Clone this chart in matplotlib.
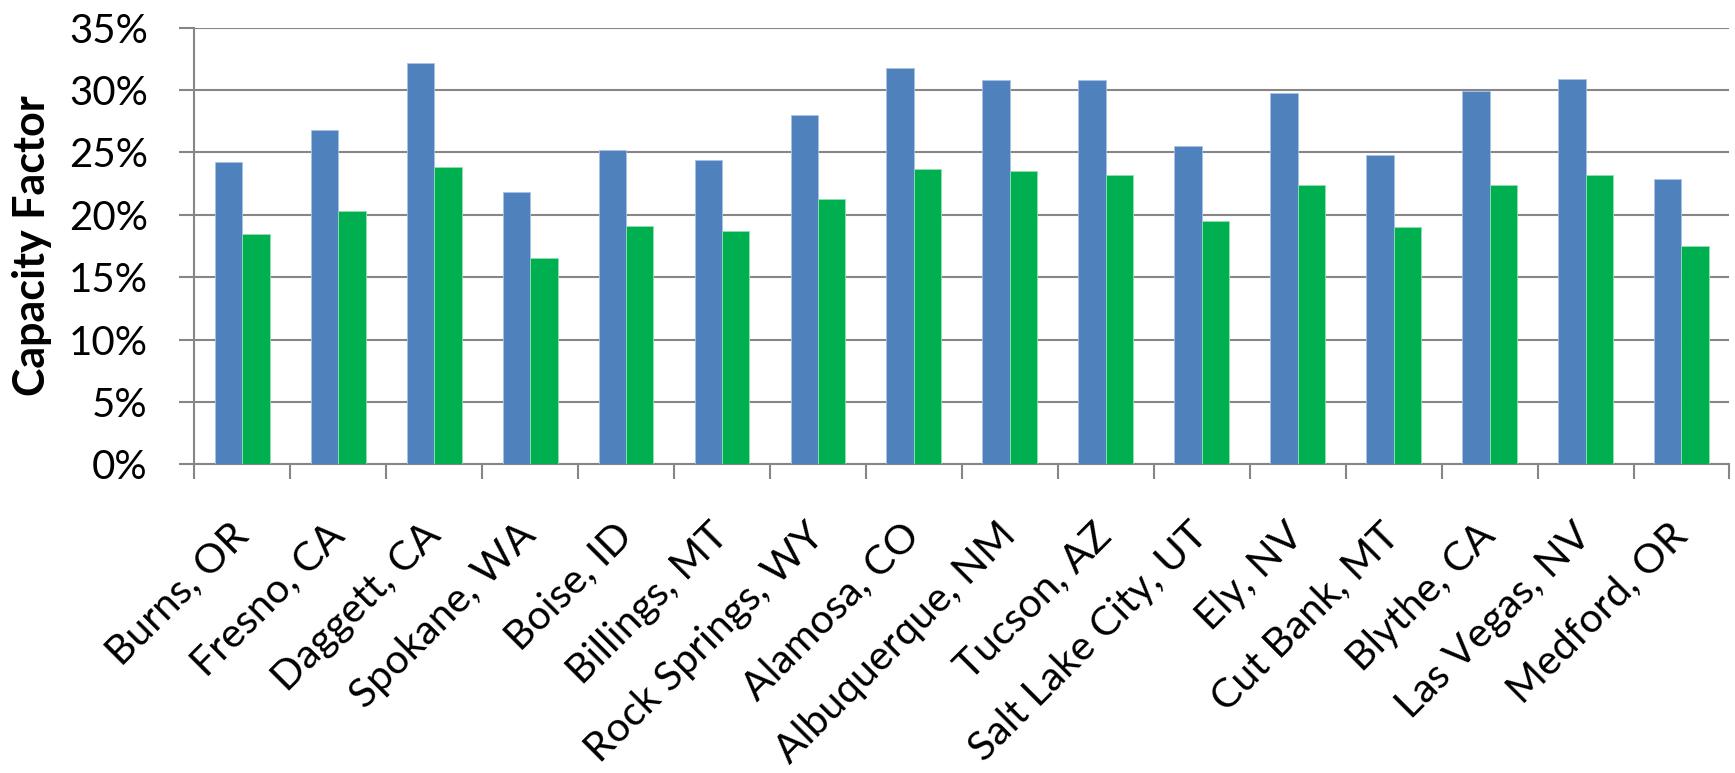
import numpy as np
import matplotlib
matplotlib.use("Agg")
import matplotlib.pyplot as plt
from matplotlib.ticker import PercentFormatter, FixedLocator

plt.rcParams['font.family'] = ['Lato', 'DejaVu Sans']

sites = ['Burns, OR', 'Fresno, CA', 'Daggett, CA', 'Spokane, WA', 'Boise, ID',
         'Billings, MT', 'Rock Springs, WY', 'Alamosa, CO', 'Albuquerque, NM',
         'Tucson, AZ', 'Salt Lake City, UT', 'Ely, NV', 'Cut Bank, MT',
         'Blythe, CA', 'Las Vegas, NV', 'Medford, OR']
cf_blue = [24.2, 26.8, 32.2, 21.8, 25.2, 24.4, 28.0, 31.8,
           30.8, 30.8, 25.5, 29.8, 24.8, 29.9, 30.9, 22.9]
cf_green = [18.5, 20.3, 23.8, 16.5, 19.1, 18.7, 21.3, 23.7,
            23.5, 23.2, 19.5, 22.4, 19.0, 22.4, 23.2, 17.5]

blue = '#4F81BD'
green = '#00B050'
grid_gray = '#868686'

fig = plt.figure(figsize=(17.35, 7.73), dpi=100)
ax = fig.add_axes([0.112, 0.3993, 0.8848, 0.5649])

x = np.arange(len(sites))
w = 0.2857
ax.bar(x - w / 2, np.array(cf_blue) / 100, w, color=blue,
       edgecolor='#A9C1E2', linewidth=0.6, zorder=3)
ax.bar(x + w / 2, np.array(cf_green) / 100, w, color=green,
       edgecolor='#8FE0B0', linewidth=0.6, zorder=3)

ax.set_xlim(-0.5, len(sites) - 0.5)
ax.set_ylim(0, 0.35)
ax.set_yticks(np.arange(0, 0.351, 0.05))
ax.yaxis.set_major_formatter(PercentFormatter(1.0, decimals=0))
ax.grid(axis='y', color=grid_gray, linewidth=1.5, zorder=0)

for side in ['top', 'right']:
    ax.spines[side].set_visible(False)
for side in ['left', 'bottom']:
    ax.spines[side].set_color(grid_gray)
    ax.spines[side].set_linewidth(1.5)

# category labels at the centres, tick marks between groups
ax.set_xticks(x)
ax.set_xticklabels(sites, rotation=45, ha='right', va='center',
                   rotation_mode='anchor', fontsize=29.5)
ax.tick_params(axis='x', which='major', length=0, pad=47)
ax.xaxis.set_minor_locator(FixedLocator(np.arange(-0.5, len(sites), 1.0)))
ax.tick_params(axis='x', which='minor', length=11, width=1.5, color=grid_gray)
ax.tick_params(axis='y', length=10.5, width=1.5, color=grid_gray,
               labelsize=29, pad=23)

ax.set_ylabel('Capacity Factor', fontsize=31, fontweight='bold')
ax.yaxis.set_label_coords(-0.0925, 0.5)

fig.savefig('out.png', dpi=100)
